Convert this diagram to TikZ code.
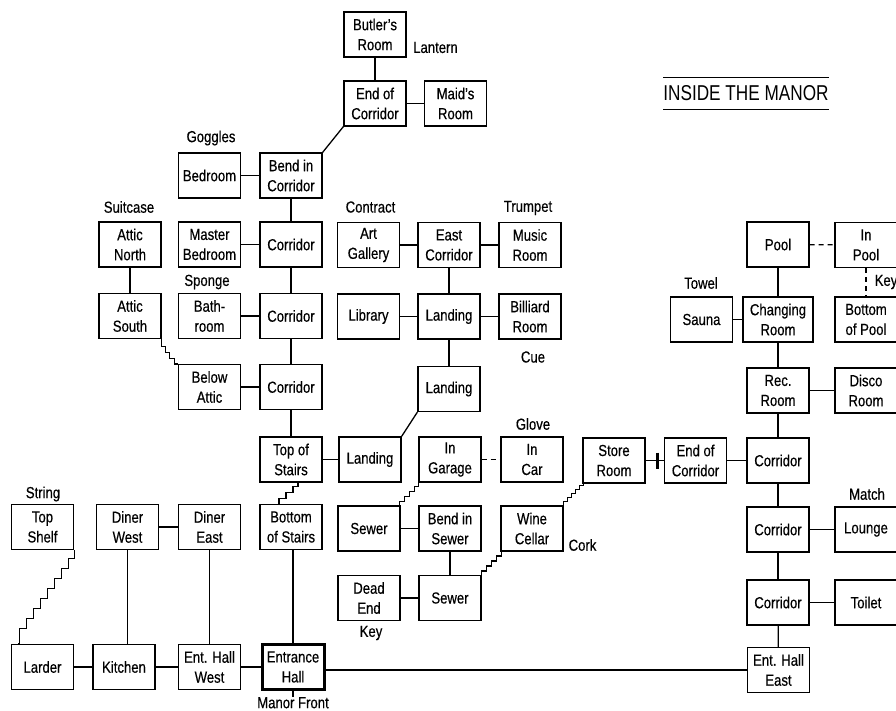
\documentclass[tikz,border=0pt]{standalone}
\usepackage{fontspec}
\setmainfont{Liberation Sans}[FakeStretch=0.82,FakeBold=0.4]
\newfontfamily\titlefont{Liberation Sans}[FakeStretch=0.8]
\usetikzlibrary{calc}
\tikzset{
  room/.style={draw, line width=1.3pt, minimum width=62pt, minimum height=45pt, inner sep=0pt, align=center, font=\fontsize{16}{20}\selectfont},
  thing/.style={inner sep=0pt, font=\fontsize{16}{19}\selectfont},
  conn/.style={line width=1.3pt},
  dashconn/.style={line width=1.3pt, dash pattern=on 5pt off 4pt},
}
\begin{document}
\begin{tikzpicture}[x=1pt,y=-1pt]
\useasboundingbox (0,0) rectangle (896,711);
\fill[white] (0,0) rectangle (896,711);

% rooms
\node[room] (butler) at (375,34.5) {Butler's\\Room};
\node[room] (eocT) at (375,103.5) {End of\\Corridor};
\node[room] (maid) at (455.5,103.5) {Maid's\\Room};
\node[room] (bedroom) at (209.5,175.5) {Bedroom};
\node[room] (bendcor) at (291,175.5) {Bend in\\Corridor};
\node[room] (atticN) at (130,244.5) {Attic\\North};
\node[room] (master) at (209.5,244.5) {Master\\Bedroom};
\node[room] (cor1) at (291,244.5) {Corridor};
\node[room] (gallery) at (368.5,245) {Art\\Gallery};
\node[room] (eastcor) at (449,245) {East\\Corridor};
\node[room] (music) at (530,245) {Music\\Room};
\node[room] (atticS) at (130,316) {Attic\\South};
\node[room] (bath) at (209.5,316) {Bath-\\room};
\node[room] (cor2) at (291,316) {Corridor};
\node[room] (library) at (368.5,316.5) {Library};
\node[room] (landing1) at (449,316.5) {Landing};
\node[room] (billiard) at (530,316.5) {Billiard\\Room};
\node[room] (below) at (209.5,387) {Below\\Attic};
\node[room] (cor3) at (291,387) {Corridor};
\node[room] (landing2) at (449,389) {Landing};
\node[room] (tos) at (291,459.5) {Top of\\Stairs};
\node[room] (landing3) at (370,459.5) {Landing};
\node[room] (garage) at (450,459.5) {In\\Garage};
\node[room] (car) at (532,459.5) {In\\Car};
\node[room] (store) at (614,460.5) {Store\\Room};
\node[room] (eocR) at (695.5,460.5) {End of\\Corridor};
\node[room] (corR1) at (778,460.5) {Corridor};
\node[room] (pool) at (778,244.5) {Pool};
\node[room] (inpool) at (866,245) {In\\Pool};
\node[room] (sauna) at (701.5,319.5) {Sauna};
\node[room, minimum width=70pt] (changing) at (778,319.5) {Changing\\Room};
\node[room] (bottompool) at (866,319.5) {Bottom\\of Pool};
\node[room] (rec) at (778,390.5) {Rec.\\Room};
\node[room] (disco) at (866,390.5) {Disco\\Room};
\node[room] (topshelf) at (42.5,527) {Top\\Shelf};
\node[room] (dinerW) at (127.5,527) {Diner\\West};
\node[room] (dinerE) at (209.5,527) {Diner\\East};
\node[room] (bos) at (291,527) {Bottom\\of Stairs};
\node[room] (sewerL) at (369,528.5) {Sewer};
\node[room] (bendsewer) at (450,528.5) {Bend in\\Sewer};
\node[room] (wine) at (532,528.5) {Wine\\Cellar};
\node[room] (corR2) at (778,529.5) {Corridor};
\node[room] (lounge) at (866,529.5) {Lounge};
\node[room] (deadend) at (369,598) {Dead\\End};
\node[room] (sewerB) at (450,598) {Sewer};
\node[room] (corR3) at (778,602.5) {Corridor};
\node[room] (toilet) at (866,602.5) {Toilet};
\node[room] (larder) at (42.5,667) {Larder};
\node[room] (kitchen) at (124,667) {Kitchen};
\node[room] (ehw) at (209.5,667) {Ent. Hall\\West};
\node[room, line width=3pt] (ent) at (293,667) {Entrance\\Hall};
\node[room] (ehe) at (778.5,670) {Ent. Hall\\East};

% item labels
\node[thing] (lantern) at (435.5,47.5) {Lantern};
\node[thing] (goggles) at (211,138) {Goggles};
\node[thing] (suitcase) at (129,207) {Suitcase};
\node[thing] (contract) at (370.5,207) {Contract};
\node[thing] (trumpet) at (528,208) {Trumpet};
\node[thing] (sponge) at (207,282) {Sponge};
\node[thing] (cue) at (533,357) {Cue};
\node[thing] (glove) at (533,424) {Glove};
\node[thing] (towel) at (701,283) {Towel};
\node[thing] (keypool) at (886,282) {Key};
\node[thing] (string) at (43,494) {String};
\node[thing] (cork) at (582.5,545) {Cork};
\node[thing] (keysewer) at (371,633) {Key};
\node[thing] (match) at (867,494) {Match};
\node[thing, anchor=north] (manor) at (293,697) {Manor Front};

% title
\node[font=\titlefont\fontsize{21.5}{26}\selectfont, inner xsep=0pt, minimum height=31pt] (title) at (746,93.5) {INSIDE THE MANOR};
\draw[conn] (title.north west) -- (title.north east);
\draw[conn] (title.south west) -- (title.south east);

% connectors
\draw[conn] (butler) -- (eocT);
\draw[conn] (eocT) -- (maid);
\draw[conn] (eocT.south west) -- (bendcor.north east);
\draw[conn] (bedroom) -- (bendcor);
\draw[conn] (bendcor) -- (cor1);
\draw[conn] (atticN) -- (atticS);
\draw[conn] (master) -- (cor1);
\draw[conn] (cor1) -- (cor2);
\draw[conn] (bath) -- (cor2);
\draw[conn] (cor2) -- (cor3);
\draw[conn] (below) -- (cor3);
\draw[conn] (cor3) -- (tos);
\draw[conn] (tos) -- (landing3);
\draw[conn] (gallery) -- (eastcor);
\draw[conn] (eastcor) -- (music);
\draw[conn] (eastcor) -- (landing1);
\draw[conn] (library) -- (landing1);
\draw[conn] (landing1) -- (billiard);
\draw[conn] (landing1) -- (landing2);
\draw[conn] (landing2.south west) -- (landing3.north east);
\draw[dashconn] (garage) -- (car);
\draw[conn] (sewerL) -- (bendsewer);
\draw[conn] (bendsewer) -- (sewerB);
\draw[conn] (deadend) -- (sewerB);
\draw[conn] (store) -- (eocR);
\path (store.east) -- (eocR.west) coordinate[pos=0.63] (doorbar);
\draw[line width=3pt] ($(doorbar)+(0,-8)$) -- ($(doorbar)+(0,8)$);
\draw[conn] (eocR) -- (corR1);
\draw[dashconn] (pool) -- (inpool);
\draw[dashconn] (inpool) -- (bottompool);
\draw[conn] (pool) -- (changing);
\draw[conn] (sauna) -- (changing);
\draw[conn] (changing) -- (rec);
\draw[conn] (rec) -- (disco);
\draw[conn] (rec) -- (corR1);
\draw[conn] (corR1) -- (corR2);
\draw[conn] (corR2) -- (lounge);
\draw[conn] (corR2) -- (corR3);
\draw[conn] (corR3) -- (toilet);
\draw[conn] (corR3) -- (ehe);
\draw[conn] (ent.east |- ehe.west) -- (ehe.west);
\draw[conn] (dinerW) -- (dinerE);
\draw[conn] (dinerW.south) -- (dinerW.south |- kitchen.north);
\draw[conn] (dinerE) -- (ehw);
\draw[conn] (ent.north |- bos.south) -- (ent.north);
\draw[conn] (larder) -- (kitchen);
\draw[conn] (kitchen) -- (ehw);
\draw[conn] (ehw) -- (ent);
\draw[conn] (ent.south) -- (manor.north);

% stairs
\draw[conn] (atticS.south east) -- ++(0,7) -- ++(4,0) -- ++(0,6) -- ++(4,0) -- ++(0,6) -- ++(5,0) |- (below.north west);
\draw[conn] ($(tos.south)+(7,0)$) -- ++(0,4) -- ++(-5,0) -- ++(0,6) -- ++(-7,0) -- ++(0,6) -- ++(-7,0) |- ($(bos.north)+(-12,0)$);
\draw[conn] (topshelf.south east) -- ++(0,8) -- ++(-6,0)
  -- ++(0,10) -- ++(-7,0) -- ++(0,10) -- ++(-7,0) -- ++(0,10) -- ++(-7,0)
  -- ++(0,10) -- ++(-7,0) -- ++(0,10) -- ++(-7,0) -- ++(0,10) -- ++(-7,0)
  -- ++(0,10) -- ++(-7,0) |- ($(larder.north west)+(7,0)$);
\draw[conn] (garage.south west) -- ++(0,4) -- ++(-4,0) -- ++(0,5) -- ++(-5,0) -- ++(0,5) -- ++(-5,0) -- ++(0,5) -- ++(-5,0) |- (sewerL.north east);
\draw[conn] (sewerB.north east) -- ++(0,-4) -- ++(5,0) -- ++(0,-5) -- ++(5,0) -- ++(0,-5) -- ++(5,0) -- ++(0,-5) -- ++(5,0) |- (wine.south west);
\draw[conn] (wine.north east) -- ++(0,-4) -- ++(4,0) -- ++(0,-4) -- ++(4,0) -- ++(0,-4) -- ++(4,0) -- ++(0,-4) -- ++(4,0) -- ++(0,-4) -- ++(4,0) |- (store.south west);
\end{tikzpicture}
\end{document}
